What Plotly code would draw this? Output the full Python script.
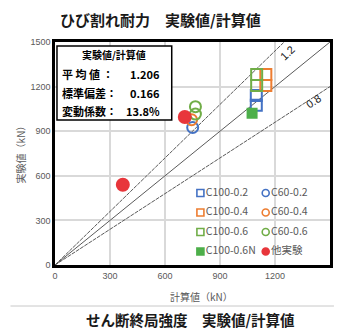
import plotly.graph_objects as go

# Measured vs. calculated shear strength (kN)
c100_02_calc = [1098, 1098]
c100_02_exp = [1140, 1075]
c100_04_calc = [1150, 1150]
c100_04_exp = [1281, 1207]
c100_06_calc = [1100, 1100]
c100_06_exp = [1281, 1207]
c100_06n_calc = [1075]
c100_06n_exp = [1020]
c60_02_calc = [751]
c60_02_exp = [925]
c60_04_calc = [745]
c60_04_exp = [977]
c60_06_calc = [766, 766]
c60_06_exp = [1065, 1015]
other_calc = [370, 708]
other_exp = [540, 996]

ratio_lines = [1.2, 1.0, 0.8]
stats_title = "実験値/計算値"
stats_labels = ["平 均 値 ：", "標準偏差：", "変動係数："]
stats_values = ["1.206", "0.166", "13.8%"]
axis_ticks = [0, 300, 600, 900, 1200, 1500]

BLUE = "#4472C4"
ORANGE = "#ED7D31"
GREEN = "#70AD47"
GREEN_FILL = "#4DAF4A"
RED = "#E8363B"
JP = "Noto Sans CJK JP"
TXT = "#595959"

W, H = 340, 329
ML, MR, MT, MB = 55, 7, 42, 64
PW, PH = W - ML - MR, H - MT - MB


def px(x):
    return (x - ML) / PW


def py(y):
    return (H - MB - y) / PH


fig = go.Figure()

# Reference ratio lines through the origin
for k in ratio_lines:
    xe = min(1500, 1500 / k)
    fig.add_trace(go.Scatter(
        x=[0, xe], y=[0, k * xe], mode="lines",
        line=dict(color="#5A5A5A", width=1,
                  dash="solid" if k == 1.0 else "4px,1px"),
        showlegend=False, hoverinfo="skip"))

series = [
    (c100_02_calc, c100_02_exp, "square-open", BLUE, 11),
    (c100_04_calc, c100_04_exp, "square-open", ORANGE, 11),
    (c100_06_calc, c100_06_exp, "square-open", GREEN, 11),
    (c100_06n_calc, c100_06n_exp, "square", GREEN_FILL, 9),
    (c60_02_calc, c60_02_exp, "circle-open", BLUE, 11),
    (c60_04_calc, c60_04_exp, "circle-open", ORANGE, 11),
    (c60_06_calc, c60_06_exp, "circle-open", GREEN, 11),
    (other_calc, other_exp, "circle", RED, 12),
]
for xs, ys, sym, col, sz in series:
    fig.add_trace(go.Scatter(
        x=xs, y=ys, mode="markers",
        marker=dict(symbol=sym, color=col, size=sz,
                    line=dict(color=col, width=2)),
        showlegend=False))

# Legend drawn on a pixel-scaled overlay axis (two columns)
legend_names = ["C100-0.2", "C60-0.2", "C100-0.4", "C60-0.4",
                "C100-0.6", "C60-0.6", "C100-0.6N", "他実験"]
legend_symbols = ["square-open", "circle-open", "square-open", "circle-open",
                  "square-open", "circle-open", "square", "circle"]
legend_colors = [BLUE, BLUE, ORANGE, ORANGE, GREEN, GREEN, GREEN_FILL, RED]
col_x = [202, 268]
row_y = [193, 212.5, 232, 251.5]
for i, (name, sym, col) in enumerate(zip(legend_names, legend_symbols, legend_colors)):
    cx, ry = col_x[i % 2], row_y[i // 2]
    fig.add_trace(go.Scatter(
        x=[cx], y=[ry], xaxis="x2", yaxis="y2", mode="markers+text",
        text=[name], textposition="middle right",
        textfont=dict(family=JP, size=10.5, color=TXT),
        marker=dict(symbol=sym, color=col, size=7, line=dict(color=col, width=1.6)),
        showlegend=False, hoverinfo="skip", cliponaxis=False))

axis_common = dict(range=[0, 1500], tickvals=axis_ticks, showgrid=True,
                   gridcolor="#D9D9D9", gridwidth=1.5, zeroline=False,
                   showline=True, linecolor="black", linewidth=2.5, mirror=True,
                   ticks="", tickfont=dict(family="Liberation Sans", size=9, color=TXT))

fig.update_layout(
    width=W, height=H,
    margin=dict(l=ML, r=MR, t=MT, b=MB),
    paper_bgcolor="white", plot_bgcolor="white",
    showlegend=False,
    xaxis=dict(**axis_common, title=None),
    yaxis=dict(**axis_common, title=None),
    xaxis2=dict(overlaying="x", range=[ML, W - MR], visible=False, fixedrange=True),
    yaxis2=dict(overlaying="y", range=[H - MB, MT], visible=False, fixedrange=True),
)

annotations = []
shapes = []


def note(text, x, y, size, color="black", angle=0, xanchor="center", ref="paper"):
    annotations.append(dict(text=text, x=x, y=y, xref=ref, yref=ref,
                            xanchor=xanchor, yanchor="middle", showarrow=False,
                            textangle=angle, font=dict(family=JP, size=size, color=color)))


# Statistics box
shapes.append(dict(type="rect", xref="paper", yref="paper",
                   x0=px(57), x1=px(173), y0=py(120), y1=py(46),
                   line=dict(color="black", width=1.5), fillcolor="white", layer="above"))
note("<b>" + stats_title + "</b>", px(115), py(55), 10)
for i, (lab, val) in enumerate(zip(stats_labels, stats_values)):
    yy = py(74 + i * 18.5)
    note("<b>" + lab + "</b>", px(60), yy, 11, xanchor="left")
    note("<b>" + val + "</b>", px(163), yy, 11, xanchor="right")

# Ratio line labels
annotations.append(dict(text="1.2", x=1268, y=1425, xref="x", yref="y", showarrow=False,
                        xanchor="center", yanchor="middle", textangle=-44,
                        font=dict(family="Liberation Sans", size=11, color="#222")))
annotations.append(dict(text="0.8", x=1412, y=1100, xref="x", yref="y", showarrow=False,
                        xanchor="center", yanchor="middle", textangle=-33,
                        font=dict(family="Liberation Sans", size=11, color="#222")))

# Axis titles
note("計算値（kN）", px(203), py(296), 10, TXT)
note("実験値（kN）", px(20), py(152), 10, TXT, angle=-90)

# Headings above and below the chart
note("<b>ひび割れ耐力　実験値/計算値</b>", px(162), py(20), 15, "#1A1A1A")
note("<b>せん断終局強度　実験値/計算値</b>", px(192), py(319), 14.5, "#1A1A1A")
shapes.append(dict(type="line", xref="paper", yref="paper",
                   x0=px(10), x1=px(337), y0=py(306), y1=py(306),
                   line=dict(color="#C8C8C8", width=1)))

fig.update_layout(annotations=annotations, shapes=shapes)
fig.write_html("out.html")
